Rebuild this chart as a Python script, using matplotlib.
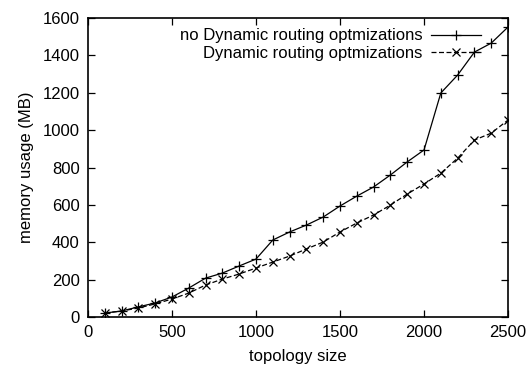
import matplotlib
matplotlib.use('Agg')
from matplotlib import pyplot as plt

# topology sizes and memory usage (MB)
topology = [100, 200, 300, 400, 500, 600, 700, 800, 900, 1000,
            1100, 1200, 1300, 1400, 1500, 1600, 1700, 1800, 1900, 2000,
            2100, 2200, 2300, 2400, 2500]
mem_no_opt = [21, 32, 54, 75, 107, 155, 208, 235, 273, 310,
              412, 455, 492, 535, 594, 647, 696, 760, 830, 894,
              1199, 1295, 1418, 1466, 1552]
mem_opt = [21, 32, 48, 70, 96, 128, 171, 203, 230, 262,
           294, 326, 364, 401, 455, 503, 546, 599, 658, 712,
           770, 850, 947, 984, 1054]

plt.rcParams['font.family'] = ['Liberation Sans', 'DejaVu Sans']

fig = plt.figure(figsize=(5.27, 3.69), dpi=100)
ax = fig.add_axes([0.167, 0.141, 0.797, 0.810])

ax.plot(topology, mem_no_opt, color='black', linewidth=0.9, marker='+',
        markersize=7, markeredgewidth=0.9, label='no Dynamic routing optmizations')
ax.plot(topology, mem_opt, color='black', linewidth=0.9, linestyle=(0, (4, 2)),
        marker='x', markersize=6, markeredgewidth=0.9, label='Dynamic routing optmizations')

ax.set_xlim(0, 2500)
ax.set_ylim(0, 1600)
ax.set_xticks(range(0, 2501, 500))
ax.set_yticks(range(0, 1601, 200))
ax.tick_params(direction='in', top=True, right=True, length=5, width=0.9,
               labelsize=12, pad=6)
for s in ax.spines.values():
    s.set_linewidth(1.2)

ax.set_xlabel('topology size', fontsize=12, labelpad=6)
ax.set_ylabel('memory usage (MB)', fontsize=12, labelpad=6)

ax.legend(loc='upper right', frameon=False, markerfirst=False, fontsize=12,
          handlelength=3.0, handletextpad=0.5, borderaxespad=0.0,
          labelspacing=0.15, bbox_to_anchor=(0.952, 0.988))
leg = ax.get_legend()
leg._legend_box.align = 'right'

fig.savefig('out.png', dpi=100)
